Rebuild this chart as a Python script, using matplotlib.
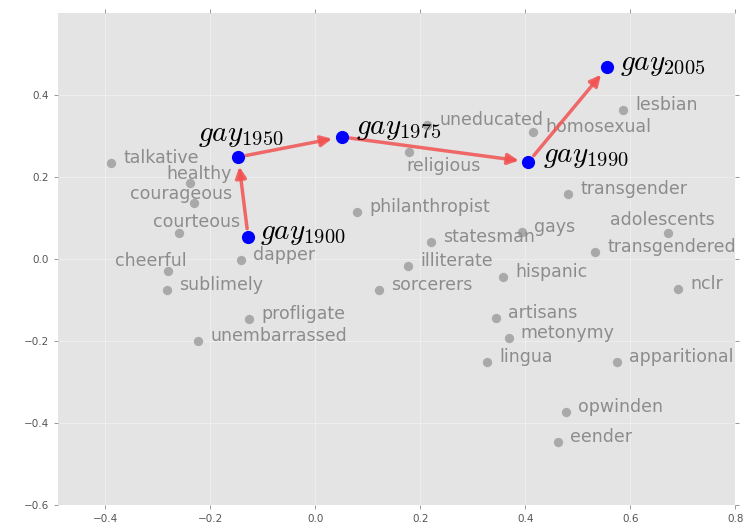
import numpy as np
import matplotlib
matplotlib.use("Agg")
import matplotlib.pyplot as plt

plt.rcParams["mathtext.fontset"] = "cm"

# trajectory of "gay" through the decades
years = ["1900", "1950", "1975", "1990", "2005"]
gay_x = [-0.128, -0.147, 0.050, 0.406, 0.556]
gay_y = [0.054, 0.249, 0.298, 0.237, 0.468]

# neighbouring words
words = ["talkative", "healthy", "courageous", "courteous", "cheerful",
         "sublimely", "dapper", "profligate", "unembarrassed",
         "philanthropist", "uneducated", "religious", "homosexual",
         "statesman", "gays", "illiterate", "sorcerers", "hispanic",
         "artisans", "metonymy", "lingua", "lesbian", "transgender",
         "adolescents", "transgendered", "nclr", "apparitional",
         "opwinden", "eender"]
word_x = [-0.389, -0.238, -0.232, -0.259, -0.280,
          -0.282, -0.141, -0.126, -0.223,
          0.080, 0.213, 0.179, 0.415,
          0.221, 0.394, 0.177, 0.122, 0.358,
          0.345, 0.368, 0.327, 0.587, 0.482,
          0.672, 0.533, 0.691, 0.575,
          0.478, 0.463]
word_y = [0.234, 0.185, 0.137, 0.063, -0.029,
          -0.076, -0.002, -0.146, -0.200,
          0.115, 0.327, 0.261, 0.310,
          0.041, 0.066, -0.017, -0.076, -0.044,
          -0.144, -0.193, -0.251, 0.363, 0.159,
          0.063, 0.017, -0.073, -0.251,
          -0.373, -0.446]

# label offsets in pixels (dx right, dy up); default is to the right of the dot
default_off = (12, 5)
word_off = {
    "healthy": (-24, 9),
    "courageous": (-64, 9),
    "courteous": (-26, 11),
    "cheerful": (-53, 10),
    "religious": (-3, -14),
    "adolescents": (-58, 13),
}
gay_off = [(12, 4), (-40, 22), (14, 9), (15, 6), (13, 3)]

fig = plt.figure(figsize=(7.45, 5.25), dpi=100)
ax = fig.add_axes([0.078, 0.038, 0.909, 0.937])
ax.set_facecolor("#e4e4e4")
for s in ax.spines.values():
    s.set_visible(False)
ax.grid(True, color="white", linewidth=0.8, alpha=0.35)
ax.set_axisbelow(True)

px = 0.72  # points per pixel at dpi 100

ax.scatter(word_x, word_y, s=45, color="#a9a9a9", zorder=2, linewidths=0)
for w, x, y in zip(words, word_x, word_y):
    dx, dy = word_off.get(w, default_off)
    ax.annotate(w, (x, y), xytext=(dx * px, dy * px), textcoords="offset points",
                ha="left", va="center", fontsize=12.5, color="#8c8c8c", zorder=3)

for i in range(len(years) - 1):
    ax.annotate("", xy=(gay_x[i + 1], gay_y[i + 1]), xytext=(gay_x[i], gay_y[i]),
                arrowprops=dict(arrowstyle="-|>", color="#f25252", alpha=0.85,
                                lw=2.5, mutation_scale=16, shrinkA=6, shrinkB=7),
                zorder=4)

ax.scatter(gay_x, gay_y, s=90, color="#0000ff", zorder=5, linewidths=0)
for yr, x, y, (dx, dy) in zip(years, gay_x, gay_y, gay_off):
    ax.annotate("$gay_{%s}$" % yr, (x, y), xytext=(dx * px, dy * px),
                textcoords="offset points", ha="left", va="center",
                fontsize=21, color="black", zorder=6)

ax.set_xlim(-0.49, 0.8)
ax.set_ylim(-0.6, 0.6)
ax.set_xticks([-0.4, -0.2, 0.0, 0.2, 0.4, 0.6, 0.8])
ax.set_yticks([-0.6, -0.4, -0.2, 0.0, 0.2, 0.4])
ax.tick_params(direction="out", length=3, width=0.6, color="#888888",
               labelsize=7.5, labelcolor="#555555",
               top=True, right=True)

fig.savefig("out.png", dpi=100, facecolor="white")
